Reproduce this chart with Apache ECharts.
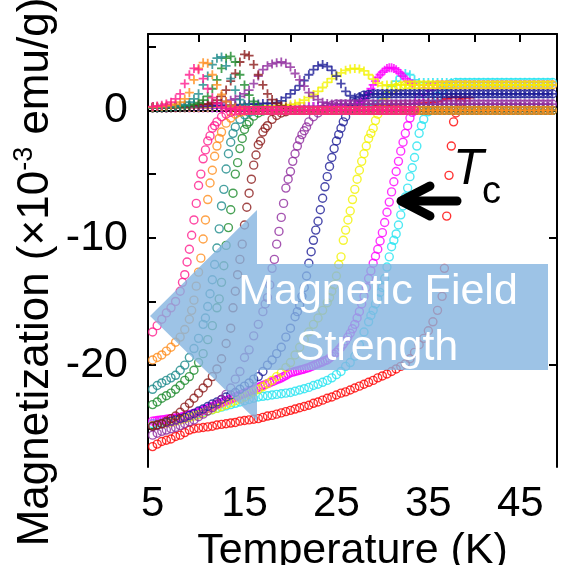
<!DOCTYPE html>
<html><head><meta charset="utf-8">
<script src="https://cdn.jsdelivr.net/npm/echarts@6/dist/echarts.min.js"></script>
<style>html,body{margin:0;padding:0;background:#fff}#c{width:566px;height:565px}</style>
</head><body><div id="c"></div>
<script>
// Temperature grid (K)
const temps = [5,5.5,6,6.5,7,7.5,8,8.5,9,9.5,
10,10.5,11,11.5,12,12.5,13,13.5,14,14.5,
15,15.5,16,16.5,17,17.5,18,18.5,19,19.5,
20,20.5,21,21.5,22,22.5,23,23.5,24,24.5,
25,25.5,26,26.5,27,27.5,28,28.5,29,29.5,
30,30.5,31,31.5,32,32.5,33,33.5,34,34.5,
35,35.5,36,36.5,37,37.5,38,38.5,39,39.5,
40,40.5,41,41.5,42,42.5,43,43.5,44,44.5,
45,45.5,46,46.5,47,47.5,48,48.5];

const xTickLabels = [5,15,25,35,45];
const yTickLabels = [-20,-10,0];

// ZFC (circles) and FC (crosses), x10^-3 emu/g
const zfcRed = [-26.4,-26.2,-26.0,-25.9,-25.8,-25.6,-25.5,-25.3,-25.1,-25.0,
-24.95,-24.9,-24.85,-24.8,-24.7,-24.65,-24.6,-24.55,-24.5,-24.4,
-24.35,-24.3,-24.25,-24.2,-24.1,-24.0,-23.95,-23.85,-23.75,-23.65,
-23.55,-23.45,-23.35,-23.25,-23.15,-23.0,-22.9,-22.75,-22.6,-22.5,
-22.35,-22.2,-22.1,-21.95,-21.8,-21.65,-21.5,-21.35,-21.2,-21.0,
-20.85,-20.7,-20.5,-20.3,-20.1,-19.9,-19.5,-19.0,-18.4,-17.9,
-17.3,-16.6,-15.7,-14.6,-8.3,-2.8,-0.2,0.6];
const zfcRedSteep = [[36.75,-12.4],[37.25,-5.1],[37.75,-0.9]];
const fcRed = [0.2,0.2,0.2,0.2,0.2,0.2,0.2,0.2,0.2,0.2,
0.2,0.2,0.2,0.2,0.2,0.2,0.2,0.2,0.2,0.2,
0.2,0.2,0.2,0.2,0.25,0.25,0.25,0.25,0.25,0.25,
0.25,0.25,0.3,0.3,0.3,0.3,0.3,0.3,0.3,0.3,
0.3,0.35,0.35,0.35,0.35,0.35,0.35,0.4,0.4,0.4,
0.4,0.4,0.45,0.45,0.45,0.5,0.5,0.5,0.55,0.55,
0.6,0.65,0.7,0.8,0.9,1.0,1.05,1.0,1.0,1.0];
const fcRedExtra = [];

const zfcCyan = [-24.6,-24.55,-24.5,-24.45,-24.4,-24.3,-24.2,-24.1,-24.0,-23.9,
-23.8,-23.7,-23.6,-23.5,-23.4,-23.3,-23.2,-23.1,-23.0,-22.9,
-22.8,-22.7,-22.6,-22.5,-22.45,-22.4,-22.35,-22.3,-22.25,-22.2,
-22.15,-22.05,-21.95,-21.85,-21.75,-21.6,-21.5,-21.35,-21.2,-21.0,
-20.75,-20.5,-20.1,-19.8,-19.3,-18.4,-17.4,-16.6,-15.7,-14.8,
-13.9,-12.3,-10.7,-9.7,-8.2,-6.8,-5.2,-3.7,-1.8,-0.7,
-0.1,0.5,1.1,1.6,1.9,2.1,2.2,2.2,2.2,2.2,
2.2,2.2,2.2,2.2,2.2,2.2,2.2,2.2,2.2,2.2,
2.2,2.2,2.2,2.2,2.2,2.2,2.2,2.2];
const zfcCyanSteep = [[28.75,-16.1],[29.25,-15.2],[29.75,-14.3],[30.25,-13.2],[30.75,-11.5],[31.25,-10.2],
[31.75,-9.0],[32.25,-7.5],[32.75,-6.1],[33.25,-4.5],[33.75,-2.8],[34.25,-1.2]];
const fcCyan = [0.2,0.2,0.2,0.2,0.2,0.2,0.2,0.2,0.2,0.2,
0.2,0.2,0.2,0.2,0.2,0.2,0.2,0.2,0.2,0.2,
0.2,0.2,0.25,0.25,0.25,0.25,0.25,0.25,0.25,0.25,
0.25,0.25,0.25,0.25,0.3,0.3,0.3,0.3,0.3,0.3,
0.3,0.3,0.3,0.3,0.3,0.3,0.3,0.35,0.5,0.7,
1.0,1.4,1.9,2.3,2.7,2.9,2.8,2.4,2.2,2.2,
2.2,2.2,2.2,2.2,2.2,2.2,2.2,2.2,2.2,2.2,
2.2,2.2,2.2,2.2,2.2,2.2,2.2,2.2,2.2,2.2,
2.2,2.2,2.2,2.2,2.2,2.2,2.2,2.2];
const fcCyanExtra = [];

const zfcMagenta = [-24.4,-24.35,-24.3,-24.25,-24.2,-24.15,-24.1,-24.0,-23.9,-23.8,
-23.7,-23.55,-23.4,-23.25,-23.1,-22.95,-22.8,-22.65,-22.5,-22.35,
-22.2,-22.05,-21.9,-21.75,-21.6,-21.45,-21.3,-21.15,-21.0,-20.8,
-20.6,-20.5,-20.4,-20.3,-20.2,-20.05,-19.9,-19.75,-19.6,-19.3,
-19.0,-18.6,-18.1,-17.5,-16.8,-15.8,-14.6,-13.2,-12.0,-10.9,
-9.6,-8.0,-6.4,-4.8,-3.2,-1.8,-0.6,0.3,1.0,1.5,
1.8,1.9,2.0,2.0,2.0,2.0,2.0,2.0,2.0,2.0,
2.0,2.0,2.0,2.0,2.0,2.0,2.0,2.0,2.0,2.0,
2.0,2.0,2.0,2.0,2.0,2.0,2.0,2.0];
const zfcMagentaSteep = [[5.25,-24.38],[5.75,-24.33],[6.25,-24.28],[6.75,-24.23],[7.25,-24.18],[7.75,-24.13],
[8.25,-24.05],[8.75,-23.95],[9.25,-23.85],[9.75,-23.75],[10.25,-23.63],[10.75,-23.48],[11.25,-23.33],
[11.75,-23.18],[12.25,-23.03],[12.75,-22.88],[13.25,-22.73],[13.75,-22.58],[14.25,-22.43],[14.75,-22.28],
[15.25,-22.13],[15.75,-21.98],[16.25,-21.83],[16.75,-21.68],[17.25,-21.53],[17.75,-21.38],[18.25,-21.23],
[18.75,-21.08],[19.25,-20.9],[19.75,-20.7],
[20.25,-20.55],[20.75,-20.45],[21.25,-20.35],[21.75,-20.25],[22.25,-20.1],[22.75,-19.95],
[23.25,-19.8],[23.75,-19.65],[24.25,-19.45],[24.75,-19.15],[25.25,-18.8],[25.75,-18.35],[26.25,-17.8],
[26.75,-17.15],[27.25,-16.3],[27.75,-15.2],[28.25,-13.9],[28.75,-12.6],[29.25,-11.45],[29.75,-10.25],
[30.25,-8.8],[30.75,-7.2],[31.25,-5.6],[31.75,-4.0],[32.25,-2.5],[32.75,-1.2],[33.25,-0.15]];
const fcMagenta = [0.2,0.2,0.2,0.2,0.2,0.2,0.2,0.2,0.2,0.2,
0.2,0.2,0.2,0.2,0.2,0.2,0.2,0.25,0.25,0.25,
0.25,0.25,0.25,0.25,0.25,0.3,0.3,0.3,0.3,0.3,
0.3,0.3,0.3,0.3,0.3,0.3,0.3,0.35,0.35,0.35,
0.35,0.4,0.4,0.45,0.5,0.6,0.9,1.4,2.0,2.6,
3.0,3.3,3.35,3.2,2.9,2.5,2.2,2.05,2.0,2.0,
2.0,2.0,2.0,2.0,2.0,2.0,2.0,2.0,2.0,2.0,
2.0,2.0,2.0,2.0,2.0,2.0,2.0,2.0,2.0,2.0,
2.0,2.0,2.0,2.0,2.0,2.0,2.0,2.0];
const fcMagentaExtra = [[27.25,0.45],[27.75,0.7],[28.25,1.15],[28.75,1.7],[29.25,2.3],[29.75,2.8],[30.25,3.15],
[30.75,3.35],[31.25,3.3],[31.75,3.05],[32.25,2.7],[32.75,2.3],[33.25,2.1]];

const zfcYellow = [-24.75,-24.7,-24.6,-24.55,-24.5,-24.4,-24.3,-24.2,-24.1,-24.0,
-23.9,-23.75,-23.6,-23.5,-23.4,-23.25,-23.1,-22.95,-22.8,-22.65,
-22.5,-22.3,-22.1,-21.9,-21.7,-21.45,-21.2,-20.9,-20.6,-20.2,
-19.8,-19.2,-18.6,-18.0,-17.4,-16.8,-16.3,-15.7,-15.1,-14.2,
-13.0,-11.5,-9.4,-7.9,-6.2,-4.7,-3.4,-2.2,-1.4,-0.3,
0.6,1.2,1.6,1.8,1.9,2.0,2.0,2.0,2.0,2.0,
2.0,2.0,2.0,2.0,2.0,2.0,2.0,2.0,2.0,2.0,
2.0,2.0,2.0,2.0,2.0,2.0,2.0,2.0,2.0,2.0,
2.0,2.0,2.0,2.0,2.0,2.0,2.0,2.0];
const zfcYellowSteep = [[24.25,-14.7],[24.75,-13.7],[25.25,-12.1],[25.75,-10.2],[26.25,-8.6],[26.75,-7.0],
[27.25,-5.4],[27.75,-4.0],[28.25,-2.8],[28.75,-1.8],[29.25,-0.8]];
const fcYellow = [0.2,0.2,0.2,0.2,0.2,0.2,0.2,0.2,0.25,0.25,
0.25,0.25,0.25,0.3,0.3,0.3,0.3,0.3,0.3,0.3,
0.3,0.3,0.3,0.3,0.3,0.35,0.35,0.35,0.4,0.4,
0.45,0.5,0.6,0.8,1.0,1.25,1.5,1.8,2.2,2.5,
2.75,2.95,3.15,3.25,3.3,3.25,3.1,2.8,2.45,2.15,
1.95,2.0,2.0,2.0,2.0,2.0,2.0,2.0,2.0,2.0,
2.0,2.0,2.0,2.0,2.0,2.0,2.0,2.0,2.0,2.0,
2.0,2.0,2.0,2.0,2.0,2.0,2.0,2.0,2.0,2.0,
2.0,2.0,2.0,2.0,2.0,2.0,2.0,2.0];
const fcYellowExtra = [];

const zfcNavy = [-24.8,-24.7,-24.6,-24.5,-24.4,-24.3,-24.2,-24.1,-23.95,-23.8,
-23.6,-23.45,-23.25,-23.05,-22.9,-22.7,-22.5,-22.35,-22.15,-21.9,
-21.65,-21.4,-21.1,-20.9,-20.5,-20.0,-19.6,-19.1,-18.6,-17.8,
-17.1,-16.2,-15.3,-13.9,-12.0,-10.2,-8.7,-6.9,-5.2,-3.7,
-2.4,-1.4,-0.5,0.1,0.6,1.0,1.2,1.25,1.3,1.3,
1.3,1.3,1.3,1.3,1.3,1.3,1.3,1.3,1.3,1.3,
1.3,1.3,1.3,1.3,1.3,1.3,1.3,1.3,1.3,1.3,
1.3,1.3,1.3,1.3,1.3,1.3,1.3,1.3,1.3,1.3,
1.3,1.3,1.3,1.3,1.3,1.3,1.3,1.3];
const zfcNavySteep = [[20.75,-15.8],[21.25,-14.6],[21.75,-13.0],[22.25,-11.1],[22.75,-9.4],[23.25,-7.8],
[23.75,-6.0],[24.25,-4.4],[24.75,-3.0],[25.25,-1.9],[25.75,-0.9]];
const fcNavy = [0.2,0.2,0.2,0.2,0.2,0.25,0.25,0.25,0.3,0.3,
0.3,0.3,0.35,0.35,0.35,0.4,0.4,0.4,0.4,0.45,
0.45,0.5,0.5,0.5,0.55,0.55,0.55,0.6,0.75,1.0,
1.3,1.6,1.95,2.35,2.8,3.2,3.5,3.6,3.45,3.15,
2.7,2.1,1.5,1.15,1.0,1.1,1.2,1.25,1.3,1.3,
1.3,1.3,1.3,1.3,1.3,1.3,1.3,1.3,1.3,1.3,
1.3,1.3,1.3,1.3,1.3,1.3,1.3,1.3,1.3,1.3,
1.3,1.3,1.3,1.3,1.3,1.3,1.3,1.3,1.3,1.3,
1.3,1.3,1.3,1.3,1.3,1.3,1.3,1.3];
const fcNavyExtra = [];

const zfcPurple = [-25.5,-25.35,-25.2,-25.1,-25.0,-24.9,-24.75,-24.6,-24.45,-24.3,
-24.05,-23.85,-23.6,-23.35,-23.05,-22.7,-22.3,-21.8,-21.1,-20.5,
-19.4,-18.8,-17.7,-16.8,-15.8,-14.7,-12.4,-10.5,-8.4,-6.1,
-4.8,-3.4,-2.3,-1.6,-0.9,-0.5,-0.2,0.1,0.3,0.4,
0.5,0.5,0.5,0.5,0.5,0.5,0.5,0.5,0.5,0.5,
0.5,0.5,0.5,0.5,0.5,0.5,0.5,0.5,0.5,0.5,
0.5,0.5,0.5,0.5,0.5,0.5,0.5,0.5,0.5,0.5,
0.5,0.5,0.5,0.5,0.5,0.5,0.5,0.5,0.5,0.5,
0.5,0.5,0.5,0.5,0.5,0.5,0.5,0.5];
const zfcPurpleSteep = [[17.25,-15.2],[17.75,-13.7],[18.25,-11.7],[18.75,-9.5],[19.25,-7.3],[19.75,-5.4],
[20.25,-4.0],[20.75,-2.8],[21.25,-1.9],[21.75,-1.3]];
const fcPurple = [0.2,0.2,0.2,0.2,0.25,0.25,0.3,0.3,0.35,0.35,
0.4,0.4,0.45,0.5,0.55,0.6,0.7,0.8,0.9,1.1,
1.3,1.6,2.1,2.7,3.2,3.5,3.65,3.75,3.8,3.7,
3.4,2.9,2.4,1.9,1.4,1.1,0.85,0.65,0.55,0.5,
0.5,0.5,0.5,0.5,0.5,0.5,0.5,0.5,0.5,0.5,
0.5,0.5,0.5,0.5,0.5,0.5,0.5,0.5,0.5,0.5,
0.5,0.5,0.5,0.5,0.5,0.5,0.5,0.5,0.5,0.5,
0.5,0.5,0.5,0.5,0.5,0.5,0.5,0.5,0.5,0.5,
0.5,0.5,0.5,0.5,0.5,0.5,0.5,0.5];
const fcPurpleExtra = [];

const zfcDarkRed = [-24.8,-24.7,-24.6,-24.4,-24.2,-24.0,-23.7,-23.3,-23.0,-22.6,
-22.2,-21.8,-21.4,-20.9,-20.3,-19.5,-18.3,-17.1,-14.2,-11.7,
-9.0,-6.5,-4.3,-2.7,-1.7,-1.2,-0.7,-0.4,-0.2,-0.1,
0,0,0,0,0,0,0,0,0,0,
0,0,0,0,0,0,0,0,0,0,
0,0,0,0,0,0,0,0,0,0,
0,0,0,0,0,0,0,0,0,0,
0,0,0,0,0,0,0,0,0,0,
0,0,0,0,0,0,0,0];
const zfcDarkRedSteep = [[13.75,-15.5],[14.25,-12.9],[14.75,-10.5],[15.25,-7.6],[15.75,-5.4],[16.25,-3.5],
[16.75,-2.4],[17.25,-1.4]];
const fcDarkRed = [0.2,0.2,0.2,0.2,0.25,0.25,0.3,0.3,0.35,0.4,
0.45,0.5,0.5,0.6,0.8,1.1,1.6,2.3,2.9,3.8,
4.4,4.3,3.6,2.8,2.0,1.3,0.85,0.55,0.35,0.2,
0.1,0,0,0,0,0,0,0,0,0,
0,0,0,0,0,0,0,0,0,0,
0,0,0,0,0,0,0,0,0,0,
0,0,0,0,0,0,0,0,0,0,
0,0,0,0,0,0,0,0,0,0,
0,0,0,0,0,0,0,0];
const fcDarkRedExtra = [];

const zfcGreen = [-23.1,-22.9,-22.6,-22.4,-22.2,-21.9,-21.6,-21.2,-20.9,-20.4,
-19.8,-19.1,-18.0,-16.9,-15.5,-13.5,-10.6,-7.8,-5.0,-3.0,
-1.5,-0.9,-0.45,-0.2,-0.05,0,0,0,0,0,
0,0,0,0,0,0,0,0,0,0,
0,0,0,0,0,0,0,0,0,0,
0,0,0,0,0,0,0,0,0,0,
0,0,0,0,0,0,0,0,0,0,
0,0,0,0,0,0,0,0,0,0,
0,0,0,0,0,0,0,0];
const zfcGreenSteep = [[12.25,-14.8],[12.75,-12.2],[13.25,-9.2],[13.75,-6.5],[14.25,-4.1],[14.75,-2.2],[15.25,-1.1]];
const fcGreen = [0.2,0.2,0.2,0.25,0.25,0.3,0.3,0.35,0.4,0.5,
0.6,0.8,1.1,1.7,2.4,3.3,4.1,4.25,3.8,2.8,
2.0,1.2,0.7,0.35,0.15,0.05,0,0,0,0,
0,0,0,0,0,0,0,0,0,0,
0,0,0,0,0,0,0,0,0,0,
0,0,0,0,0,0,0,0,0,0,
0,0,0,0,0,0,0,0,0,0,
0,0,0,0,0,0,0,0,0,0,
0,0,0,0,0,0,0,0];
const fcGreenExtra = [];

const zfcTeal = [-21.9,-21.6,-21.4,-21.2,-21.0,-20.8,-20.4,-20.0,-19.4,-18.7,
-17.9,-16.8,-15.4,-13.3,-10.8,-7.5,-4.6,-2.5,-1.3,-0.7,
-0.35,-0.15,-0.05,0,0,0,0,0,0,0,
0,0,0,0,0,0,0,0,0,0,
0,0,0,0,0,0,0,0,0,0,
0,0,0,0,0,0,0,0,0,0,
0,0,0,0,0,0,0,0,0,0,
0,0,0,0,0,0,0,0,0,0,
0,0,0,0,0,0,0,0];
const zfcTealSteep = [[10.75,-16.3],[11.25,-14.4],[11.75,-12.1],[12.25,-9.3],[12.75,-6.2],[13.25,-3.4],[13.75,-1.8]];
const fcTeal = [0.2,0.2,0.25,0.25,0.3,0.3,0.4,0.45,0.65,0.9,
1.3,2.0,2.7,3.6,4.1,4.2,3.5,2.5,1.6,0.85,
0.45,0.25,0.1,0.05,0,0,0,0,0,0,
0,0,0,0,0,0,0,0,0,0,
0,0,0,0,0,0,0,0,0,0,
0,0,0,0,0,0,0,0,0,0,
0,0,0,0,0,0,0,0,0,0,
0,0,0,0,0,0,0,0,0,0,
0,0,0,0,0,0,0,0];
const fcTealExtra = [];

const zfcOrange = [-19.6,-19.4,-19.2,-18.9,-18.6,-18.2,-17.8,-17.2,-16.4,-14.9,
-12.7,-10.1,-7.0,-4.7,-2.8,-1.7,-1.0,-0.6,-0.3,-0.15,
-0.05,0,0,0,0,0,0,0,0,0,
0,0,0,0,0,0,0,0,0,0,
0,0,0,0,0,0,0,0,0,0,
0,0,0,0,0,0,0,0,0,0,
0,0,0,0,0,0,0,0,0,0,
0,0,0,0,0,0,0,0,0,0,
0,0,0,0,0,0,0,0];
const zfcOrangeSteep = [[9.25,-15.7],[9.75,-13.8],[10.25,-11.6],[10.75,-8.6],[11.25,-5.7],[11.75,-3.6],[12.25,-2.2]];
const fcOrange = [0.25,0.3,0.3,0.35,0.4,0.5,0.65,0.9,1.4,2.4,
3.3,3.75,3.7,2.8,2.0,1.25,0.7,0.4,0.2,0.1,
0.05,0,0,0,0,0,0,0,0,0,
0,0,0,0,0,0,0,0,0,0,
0,0,0,0,0,0,0,0,0,0,
0,0,0,0,0,0,0,0,0,0,
0,0,0,0,0,0,0,0,0,0,
0,0,0,0,0,0,0,0,0,0,
0,0,0,0,0,0,0,0];
const fcOrangeExtra = [];

const zfcPink = [-17.4,-16.9,-16.4,-15.9,-15.5,-15.0,-14.2,-12.9,-10.9,-8.6,
-5.9,-3.8,-2.4,-1.4,-0.9,-0.5,-0.3,-0.15,-0.05,0,
0,0,0,0,0,0,0,0,0,0,
0,0,0,0,0,0,0,0,0,0,
0,0,0,0,0,0,0,0,0,0,
0,0,0,0,0,0,0,0];
const zfcPinkSteep = [[8.25,-13.5],[8.75,-11.9],[9.25,-9.8],[9.75,-7.3],[10.25,-5.0],[10.75,-3.1],[11.25,-2.0],[11.75,-1.2]];
const fcPink = [0.3,0.35,0.4,0.5,0.65,0.9,1.3,2.1,2.8,3.3,
3.2,2.5,1.7,1.0,0.55,0.3,0.15,0.1,0.05,0,
0,0,0,0,0,0,0,0,0,0,
0,0,0,0,0,0,0,0,0,0,
0,0,0,0,0,0,0,0,0,0,
0,0,0,0,0,0,0,0];
const fcPinkExtra = [];

const groups = [
  ['#ff0000', zfcRed, zfcRedSteep, fcRed, fcRedExtra],
  ['#22e4f0', zfcCyan, zfcCyanSteep, fcCyan, fcCyanExtra],
  ['#ff00ff', zfcMagenta, zfcMagentaSteep, fcMagenta, fcMagentaExtra],
  ['#f2f200', zfcYellow, zfcYellowSteep, fcYellow, fcYellowExtra],
  ['#1c1c96', zfcNavy, zfcNavySteep, fcNavy, fcNavyExtra],
  ['#8e2a9e', zfcPurple, zfcPurpleSteep, fcPurple, fcPurpleExtra],
  ['#8b1a1a', zfcDarkRed, zfcDarkRedSteep, fcDarkRed, fcDarkRedExtra],
  ['#1a8a2a', zfcGreen, zfcGreenSteep, fcGreen, fcGreenExtra],
  ['#1a8a8a', zfcTeal, zfcTealSteep, fcTeal, fcTealExtra],
  ['#ff8c1a', zfcOrange, zfcOrangeSteep, fcOrange, fcOrangeExtra],
  ['#ff1a8c', zfcPink, zfcPinkSteep, fcPink, fcPinkExtra]
];

const crossPath = 'path://M0,4H10V6H0Z M4,0H6V10H4Z';
const series = [];
groups.forEach(([col, zfc, steep, fc, fcExtra]) => {
  series.push({
    type: 'scatter', silent: true, symbol: crossPath, symbolSize: 9,
    itemStyle: { color: col },
    data: fc.map((m, i) => [temps[i], m]).concat(fcExtra)
  });
  series.push({
    type: 'scatter', silent: true, symbol: 'circle', symbolSize: 8,
    itemStyle: { color: 'rgba(0,0,0,0)', borderColor: col, borderWidth: 1.4 },
    data: zfc.map((m, i) => [temps[i], m]).concat(steep)
  });
});

const FONT = 'Liberation Sans, Arial, sans-serif';
const chart = echarts.init(document.getElementById('c'), null, { renderer: 'canvas' });
chart.setOption({
  animation: false,
  backgroundColor: '#fff',
  grid: { left: 148, right: 9, top: 34, bottom: 98, outerBoundsMode: 'none', containLabel: false },
  xAxis: [
    { type: 'value', min: 4.5, max: 49, position: 'bottom',
      axisLine: { lineStyle: { color: '#000', width: 2 } },
      axisTick: { inside: true, length: 8, customValues: xTickLabels, lineStyle: { color: '#000', width: 2 } },
      axisLabel: { customValues: xTickLabels, fontSize: 42, color: '#000', fontFamily: FONT, margin: 16 },
      splitLine: { show: false },
      name: 'Temperature (K)', nameLocation: 'middle', nameGap: 55,
      nameTextStyle: { fontSize: 43, color: '#000', fontFamily: FONT } },
    { type: 'value', min: 4.5, max: 49, position: 'bottom',
      axisLine: { show: false },
      axisTick: { inside: true, length: 4, customValues: [10,20,30,40], lineStyle: { color: '#000', width: 2 } },
      axisLabel: { show: false }, splitLine: { show: false } },
    { type: 'value', min: 4.5, max: 49, position: 'top',
      axisLine: { lineStyle: { color: '#000', width: 2 } },
      axisTick: { inside: true, length: 8, customValues: [10,15,20,25,30,35,40,45], lineStyle: { color: '#000', width: 2 } },
      axisLabel: { show: false }, splitLine: { show: false } }
  ],
  yAxis: [
    { type: 'value', min: -28, max: 6, position: 'left',
      axisLine: { lineStyle: { color: '#000', width: 2 } },
      axisTick: { inside: true, length: 8, customValues: [-25,-20,-15,-10,-5,0,5], lineStyle: { color: '#000', width: 2 } },
      axisLabel: { customValues: yTickLabels, fontSize: 43, color: '#000', fontFamily: FONT, margin: 20, padding: [7,0,0,0] },
      splitLine: { show: false } },
    { type: 'value', min: -28, max: 6, position: 'right',
      axisLine: { lineStyle: { color: '#000', width: 2 } },
      axisTick: { inside: true, length: 8, customValues: [-20,-10,0], lineStyle: { color: '#000', width: 2 } },
      axisLabel: { show: false }, splitLine: { show: false } }
  ],
  series: series,
  graphic: [
    { type: 'polygon', z: 100, silent: true,
      shape: { points: [[150,316],[257,210],[257,264],[548,264],[548,370],[257,370],[257,421]] },
      style: { fill: 'rgba(132,180,224,0.8)' } },
    { type: 'text', z: 101, x: 378, y: 292, silent: true,
      style: { text: 'Magnetic Field', fill: '#fff', font: '43px ' + FONT, align: 'center', verticalAlign: 'middle' } },
    { type: 'text', z: 101, x: 377, y: 348, silent: true,
      style: { text: 'Strength', fill: '#fff', font: '43px ' + FONT, align: 'center', verticalAlign: 'middle' } },
    { type: 'line', z: 101, silent: true, shape: { x1: 402, y1: 201, x2: 457, y2: 201 },
      style: { stroke: '#000', lineWidth: 9, lineCap: 'round' } },
    { type: 'polyline', z: 101, silent: true, shape: { points: [[430,186],[401,201],[430,216]] },
      style: { stroke: '#000', lineWidth: 9, lineCap: 'round', lineJoin: 'round', fill: null } },
    { type: 'text', z: 101, x: 453, y: 170, silent: true,
      style: { text: 'T', fill: '#000', font: 'italic 50px ' + FONT, align: 'left', verticalAlign: 'middle' } },
    { type: 'text', z: 101, x: 482, y: 193, silent: true,
      style: { text: 'c', fill: '#000', font: '38px ' + FONT, align: 'left', verticalAlign: 'middle' } },
    { type: 'text', z: 101, x: 36, y: 272, rotation: Math.PI / 2, silent: true,
      style: { text: '{a|Magnetization (×10}{s|-3}{a| emu/g)}', align: 'center', verticalAlign: 'middle',
        fill: '#000',
        rich: { a: { fontSize: 44, fontFamily: FONT, fill: '#000', lineHeight: 50 },
                s: { fontSize: 27, fontFamily: FONT, fill: '#000', verticalAlign: 'top', lineHeight: 50 } } } }
  ]
});
</script></body></html>
